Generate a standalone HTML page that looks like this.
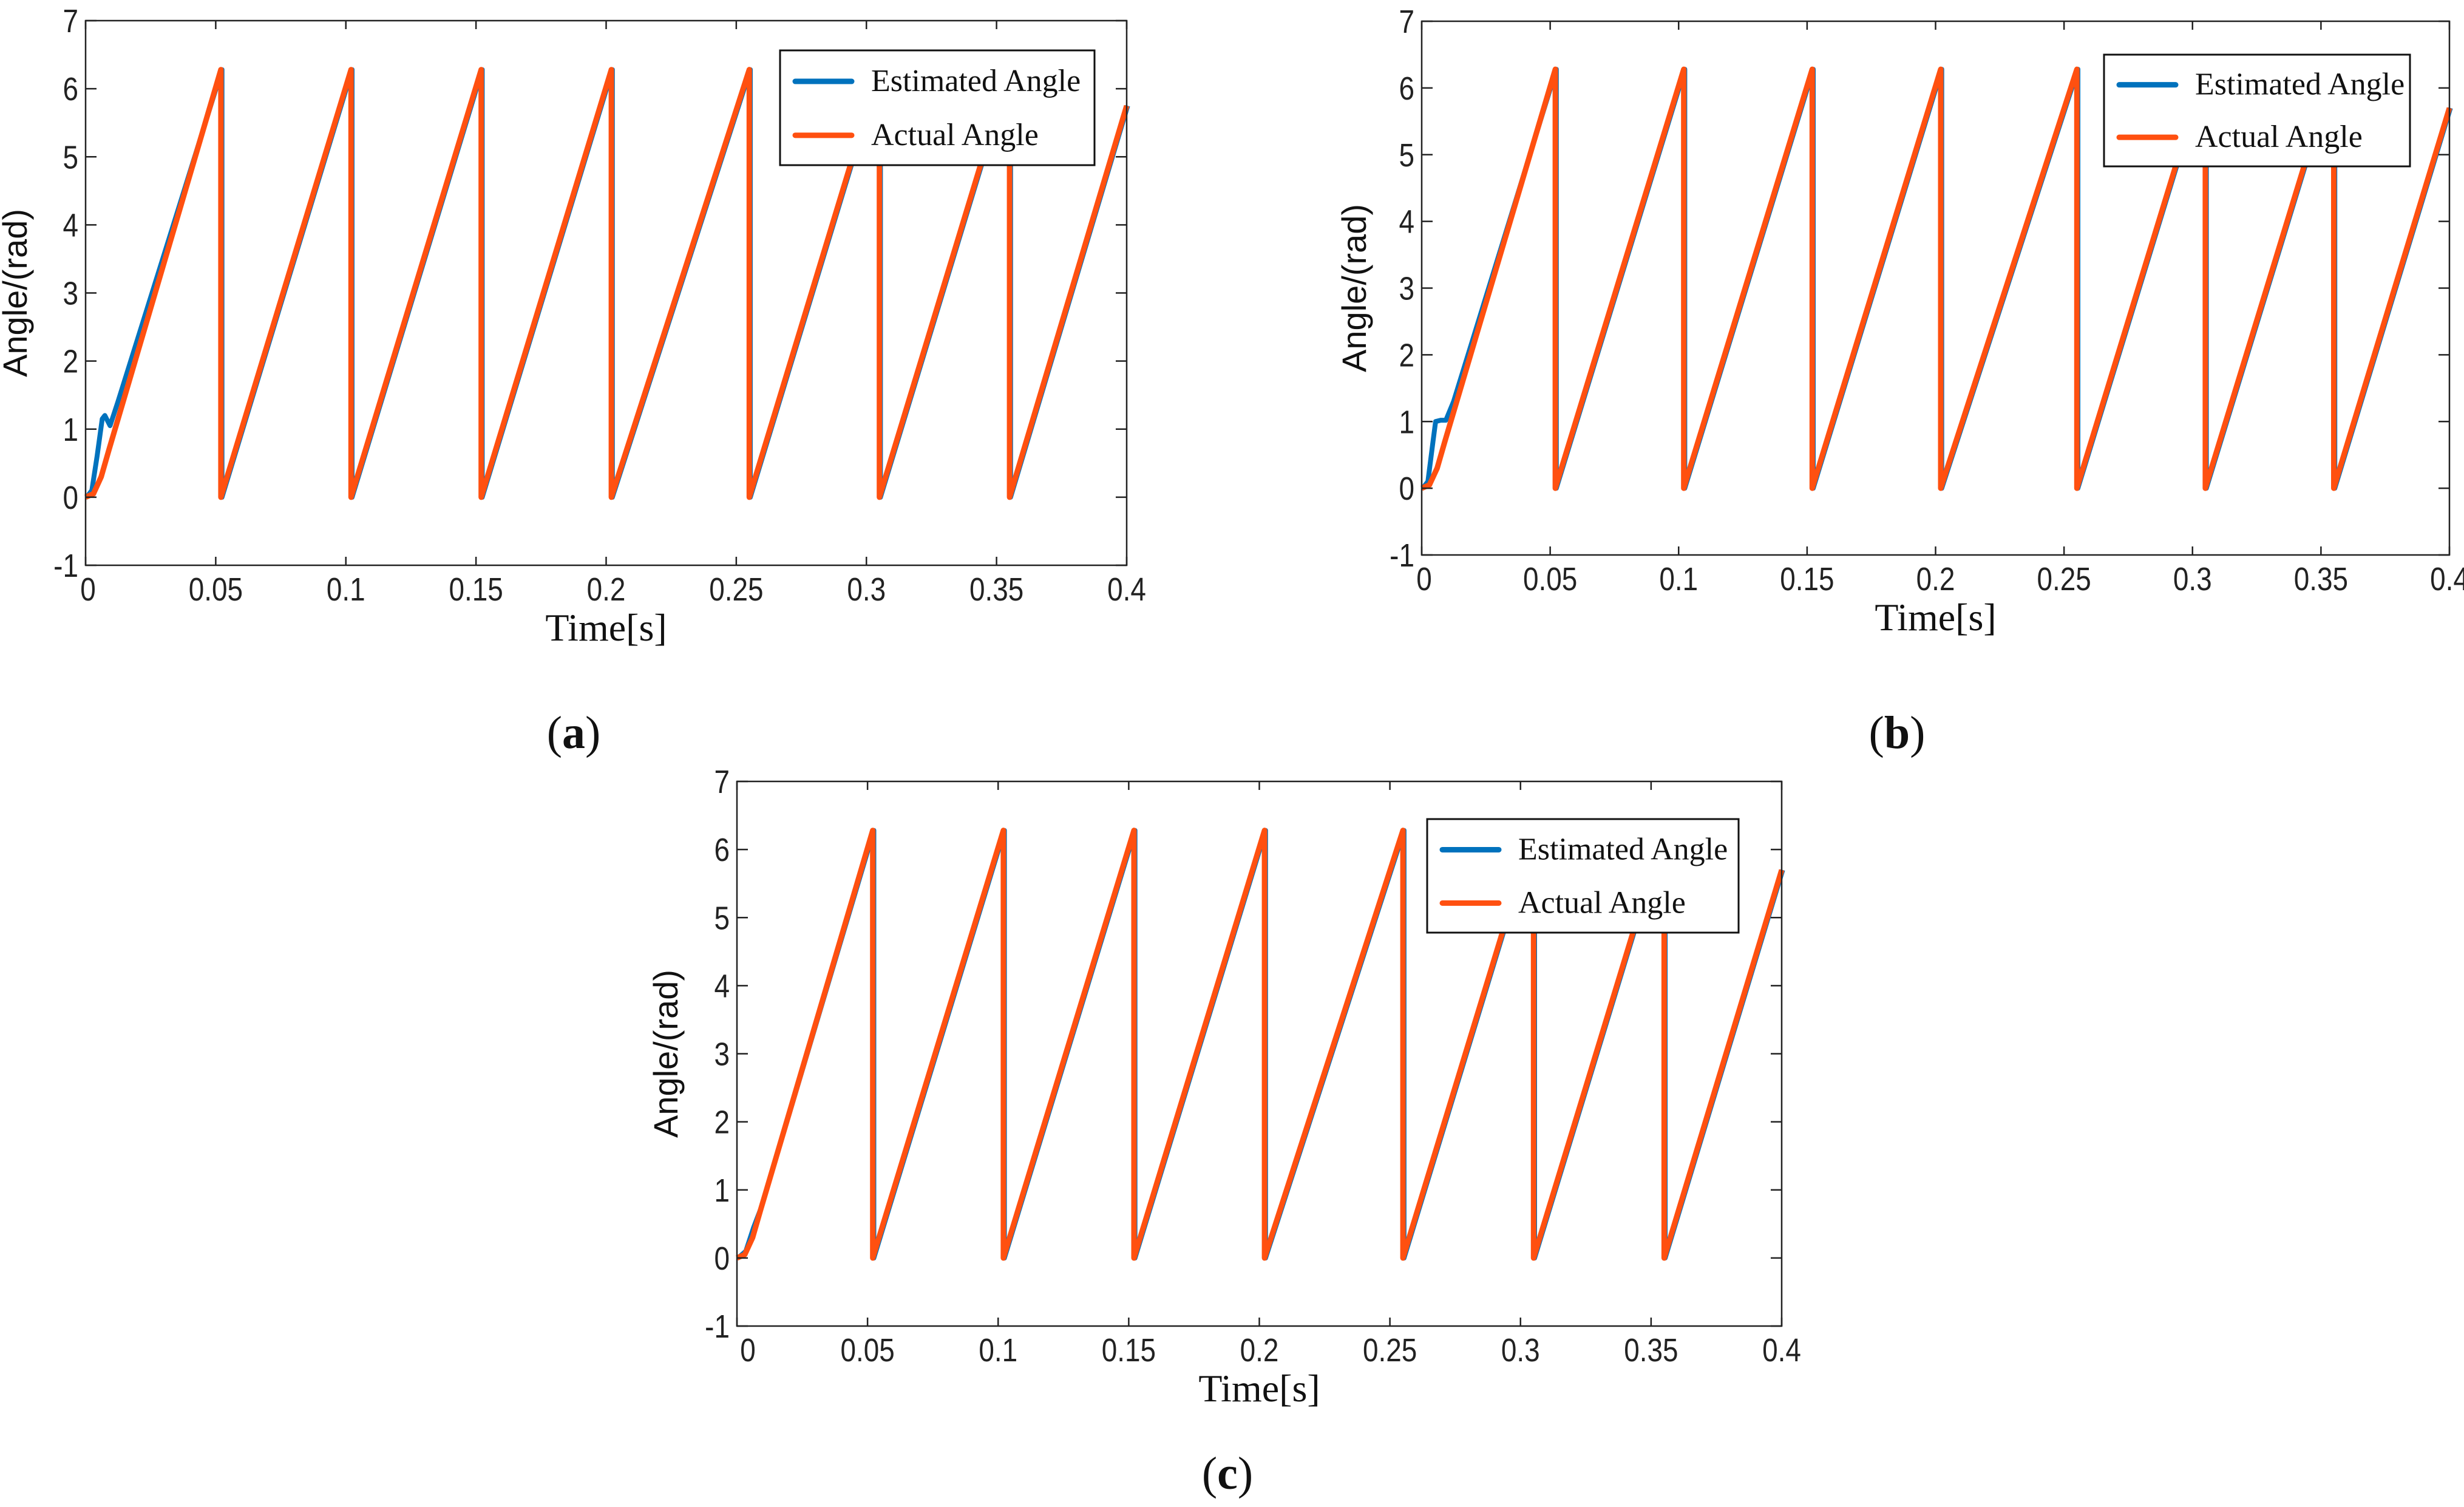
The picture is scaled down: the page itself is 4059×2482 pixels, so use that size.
<!DOCTYPE html>
<html><head><meta charset="utf-8"><style>
html,body{margin:0;padding:0;background:#fff;overflow:hidden}
svg{display:block}
</style></head><body>
<svg id="fig" width="4059" height="2482" viewBox="0 0 4059 2482" xmlns="http://www.w3.org/2000/svg"></svg>
<script>
// ---- data ----
const xTicks = [0, 0.05, 0.1, 0.15, 0.2, 0.25, 0.3, 0.35, 0.4];
const xTickLabels = ["0","0.05","0.1","0.15","0.2","0.25","0.3","0.35","0.4"];
const yTicks = [-1,0,1,2,3,4,5,6,7];
const yTickLabels = ["-1","0","1","2","3","4","5","6","7"];
const resetTimesA = [0.052,0.102,0.152,0.202,0.255,0.305,0.355];
const resetTimesB = [0.052,0.102,0.152,0.202,0.255,0.305,0.355];
const resetTimesC = [0.052,0.102,0.152,0.202,0.255,0.305,0.355];
const peakValue = 6.28;
const endValueA = 5.75;
const endValueB = 5.7;
const endValueC = 5.7;
const startupActual = [[0,0],[0.003,0.05],[0.006,0.3],[0.009,0.7]];
const startupEstA = [[0,0],[0.002,0.1],[0.004,0.6],[0.006,1.15],[0.007,1.2],[0.009,1.05],[0.012,1.4]];
const startupEstB = [[0,0],[0.002,0.1],[0.004,0.7],[0.005,1.0],[0.007,1.02],[0.009,1.02],[0.012,1.3]];
const startupEstC = [[0,0],[0.003,0.1],[0.006,0.45],[0.009,0.75]];

const NS="http://www.w3.org/2000/svg";
const svg=document.getElementById('fig');
function mk(tag,attrs,parent){const e=document.createElementNS(NS,tag);for(const k in attrs)e.setAttribute(k,attrs[k]);(parent||svg).appendChild(e);return e;}

function buildSeries(startup,resets,endVal){
  const pts=startup.slice();
  for(const r of resets){pts.push([r,peakValue]);pts.push([r,0]);}
  pts.push([0.4,endVal]);
  return pts;
}

function panel(id,L,R,T,B,resets,endVal,estStartup,leg,labelPos,letter,titleX){
  const g=mk('g',{});
  
  
  const xs=v=>L+(v-0)/(0.4-0)*(R-L);
  const ys=v=>B-(v+1)/8*(B-T);
  const est=buildSeries(estStartup,resets,endVal);
  const act=buildSeries(startupActual,resets,endVal);
  const pe=mk('polyline',{points:est.map(p=>xs(p[0]+0.0004).toFixed(1)+','+ys(p[1]).toFixed(1)).join(' '),fill:'none',stroke:'#0072BD','stroke-width':8,'stroke-linejoin':'round'},g);
  
  
  const pa=mk('polyline',{points:act.map(p=>xs(p[0]).toFixed(1)+','+ys(p[1]).toFixed(1)).join(' '),fill:'none',stroke:'#FF5010','stroke-width':9,'stroke-linejoin':'round'},g);
  
  
  const fr=mk('rect',{x:L,y:T,width:R-L,height:B-T,fill:'none',stroke:'#222','stroke-width':2.5},g);
  
  
  xTicks.forEach((v,i)=>{
    const x=xs(v);
    mk('line',{x1:x,y1:B,x2:x,y2:B-14,stroke:'#222','stroke-width':2.5},g);
    mk('line',{x1:x,y1:T,x2:x,y2:T+14,stroke:'#222','stroke-width':2.5},g);
    let tx=x; if(i===0) tx=x+(id==='c'?18:4);
    const t=mk('text',{transform:`translate(${tx},${B+58}) scale(0.85,1)`,'text-anchor':'middle','font-family':'Liberation Sans, sans-serif','font-size':54,fill:'#222'},g);
    t.textContent=xTickLabels[i];
    
    
  });
  yTicks.forEach((v,i)=>{
    const y=ys(v);
    mk('line',{x1:L,y1:y,x2:L+18,y2:y,stroke:'#222','stroke-width':2.5},g);
    mk('line',{x1:R,y1:y,x2:R-18,y2:y,stroke:'#222','stroke-width':2.5},g);
    const t=mk('text',{transform:`translate(${L-12},${y+19}) scale(0.85,1)`,'text-anchor':'end','font-family':'Liberation Sans, sans-serif','font-size':54,fill:'#222'},g);
    t.textContent=yTickLabels[i];
    
    
  });
  const yt=mk('text',{transform:`translate(${titleX},${(T+B)/2}) rotate(-90)`,'text-anchor':'middle','font-family':'Liberation Sans, sans-serif','font-size':56,fill:'#111'},g);
  yt.textContent='Angle/(rad)';
  
  
  const xt=mk('text',{x:(L+R)/2,y:B+124,'text-anchor':'middle','font-family':'Liberation Serif, serif','font-size':64,fill:'#111'},g);
  xt.textContent='Time[s]';
  
  
  const [lx,ly,lw,lh]=leg;
  const lg=mk('g',{},g);
  
  
  mk('rect',{x:lx,y:ly,width:lw,height:lh,fill:'#fff',stroke:'#111','stroke-width':3},lg);
  const rows=[['Estimated Angle','#0072BD',0.27],['Actual Angle','#FF5010',0.74]];
  rows.forEach(r=>{
    const yy=ly+lh*r[2];
    const e=mk('g',{},lg);
    
    
    mk('line',{x1:lx+25,y1:yy,x2:lx+118,y2:yy,stroke:r[1],'stroke-width':9,'stroke-linecap':'round'},e);
    const t=mk('text',{x:lx+150,y:yy+16,'font-family':'Liberation Serif, serif','font-size':52,fill:'#111'},e);
    t.textContent=r[0];
  });
  const pl=mk('text',{x:labelPos[0],y:labelPos[1],'text-anchor':'middle','font-family':'Liberation Serif, serif','font-size':76,fill:'#111'});
  
  
  pl.innerHTML='(<tspan font-weight="bold">'+letter+'</tspan>)';
}

panel('a',141,1856,34,931,resetTimesA,endValueA,startupEstA,[1285,83,518,189],[945,1232],'a',44);
panel('b',2342,4035,35,914,resetTimesB,endValueB,startupEstB,[3466,90,504,184],[3125,1232],'b',2250);
panel('c',1214,2935,1287,2184,resetTimesC,endValueC,startupEstC,[2351,1349,513,187],[2022,2452],'c',1116);
</script>
</body></html>
